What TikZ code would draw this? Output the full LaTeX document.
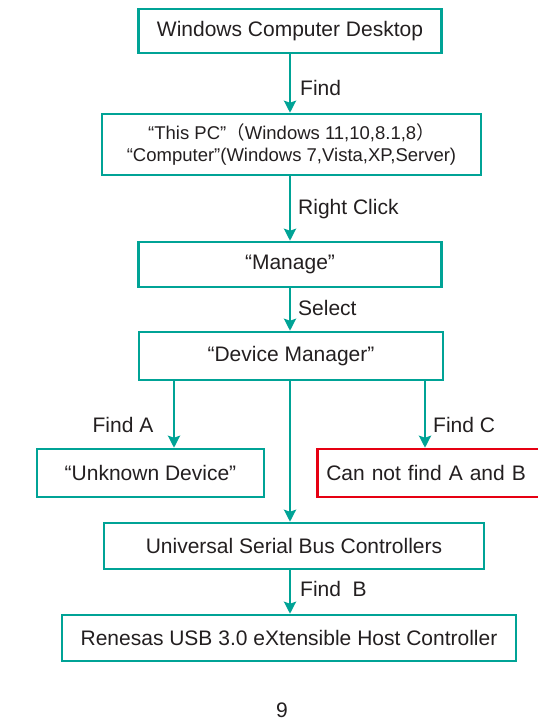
\documentclass[tikz,border=0pt]{standalone}
\usepackage{fontspec}
\setmainfont{Liberation Sans}
\newfontfamily\cjk{Noto Sans CJK SC}
\usetikzlibrary{arrows.meta}
\definecolor{teal1}{RGB}{0,163,150}
\definecolor{red1}{RGB}{230,0,18}
\definecolor{txt}{RGB}{35,31,32}
\begin{document}
\begin{tikzpicture}[x=1bp,y=-1bp,
  box/.style={draw=teal1, line width=2.5bp, inner sep=0pt, text=txt,
    font=\fontsize{21bp}{25bp}\selectfont},
  redbox/.style={box, draw=red1},
  arr/.style={draw=teal1, line width=2.5bp, -{Stealth[length=12bp,width=12bp,inset=2bp]}},
  lbl/.style={font=\fontsize{21bp}{25bp}\selectfont, text=txt, inner sep=0pt}]
\clip (0,0) rectangle (538,727);
\node[box, minimum width=303bp, minimum height=44bp] (desk) at (290,31) {Windows Computer Desktop};
\node[box, minimum width=379bp, minimum height=61bp, align=center,
  font=\fontsize{18.5bp}{22bp}\selectfont] (pc) at (291.5,144.5)
  {“This PC”{\cjk （}Windows 11,10,8.1,8{\cjk ）}\\“Computer”(Windows 7,Vista,XP,Server)};
\node[box, minimum width=303bp, minimum height=45bp] (man) at (290,264.5) {“Manage”};
\node[box, minimum width=304bp, minimum height=48bp] (dm) at (291,356) {“Device Manager”};
\node[box, minimum width=227bp, minimum height=48bp] (unk) at (150.5,473) {“Unknown Device”};
\node[redbox, minimum width=229bp, minimum height=48bp, anchor=west, text width=229bp, align=left] (cnf) at (316,473) {\hspace*{9bp}Can not find A and B};
\node[box, minimum width=380bp, minimum height=46bp] (usb) at (294,546) {Universal Serial Bus Controllers};
\node[box, minimum width=454bp, minimum height=46bp] (ren) at (289,638) {Renesas USB 3.0 eXtensible Host Controller};

\coordinate (xm) at (290,0);
\coordinate (xa) at (174,0);
\coordinate (xc) at (425,0);

\draw[arr] (desk.south -| xm) -- (pc.north -| xm);
\draw[arr] (pc.south -| xm) -- (man.north -| xm);
\draw[arr] (man.south -| xm) -- (dm.north -| xm);
\draw[arr] (dm.south -| xa) -- (unk.north -| xa);
\draw[arr] (dm.south -| xm) -- (usb.north -| xm);
\draw[arr] (dm.south -| xc) -- (cnf.north -| xc);
\draw[arr] (usb.south -| xm) -- (ren.north -| xm);

\node[lbl, anchor=west] (l1) at (300,88) {Find};
\node[lbl, anchor=west] (l2) at (298,209) {Right Click};
\node[lbl, anchor=west] (l3) at (298,308) {Select};
\node[lbl] (l4) at (123,425) {Find A};
\node[lbl, anchor=west] (l5) at (433,425) {Find C};
\node[lbl, anchor=west] (l6) at (300,589) {Find\ \ B};
\node[lbl] (pg) at (282,710) {9};
\end{tikzpicture}
\end{document}
